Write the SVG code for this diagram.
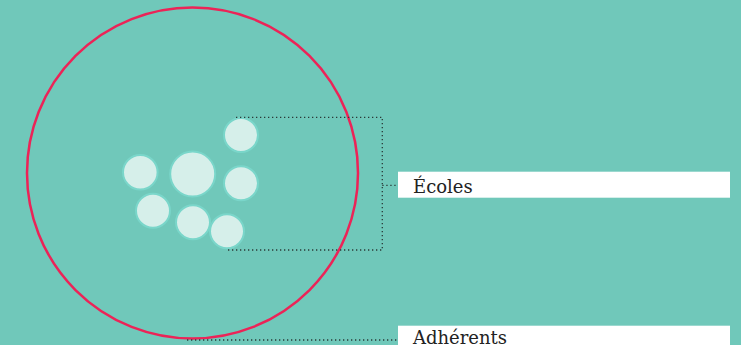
<svg xmlns="http://www.w3.org/2000/svg" width="741" height="345" viewBox="0 0 741 345">
<style>
.dot{fill:none;stroke:#2a3a38;stroke-width:1.3;stroke-dasharray:1.3 2.7}
.bub{fill:#d6efea;stroke:#7ad6ca;stroke-width:2}
.lbl{font-family:"DejaVu Serif","Liberation Serif",serif;font-size:18px;fill:#222}
</style>
<rect width="741" height="345" fill="#70c8ba"/>
<g id="adherents-circle"><circle cx="192.5" cy="173" r="165.5" fill="none" stroke="#ec2357" stroke-width="2.5"/></g>
<g id="ecoles-bubbles">
<circle class="bub" cx="241" cy="135" r="17"/>
<circle class="bub" cx="192.7" cy="174" r="22.5"/>
<circle class="bub" cx="140.3" cy="172.3" r="17.3"/>
<circle class="bub" cx="241" cy="183.3" r="17"/>
<circle class="bub" cx="153" cy="210.7" r="17"/>
<circle class="bub" cx="193" cy="222.3" r="17"/>
<circle class="bub" cx="227" cy="231.3" r="17"/>
</g>
<g id="connectors">
<path class="dot" d="M236 117.3H382.3V250H227"/>
<path class="dot" d="M382.3 185.3H398"/>
<path class="dot" d="M187 340H398"/>
</g>
<g id="label-ecoles">
<rect x="398" y="171.7" width="332" height="26" fill="#fff"/>
<text class="lbl" x="413" y="192.5">Écoles</text>
</g>
<g id="label-adherents">
<rect x="398" y="325.7" width="332" height="26" fill="#fff"/>
<text class="lbl" x="413" y="343.5">Adhérents</text>
</g>
</svg>
